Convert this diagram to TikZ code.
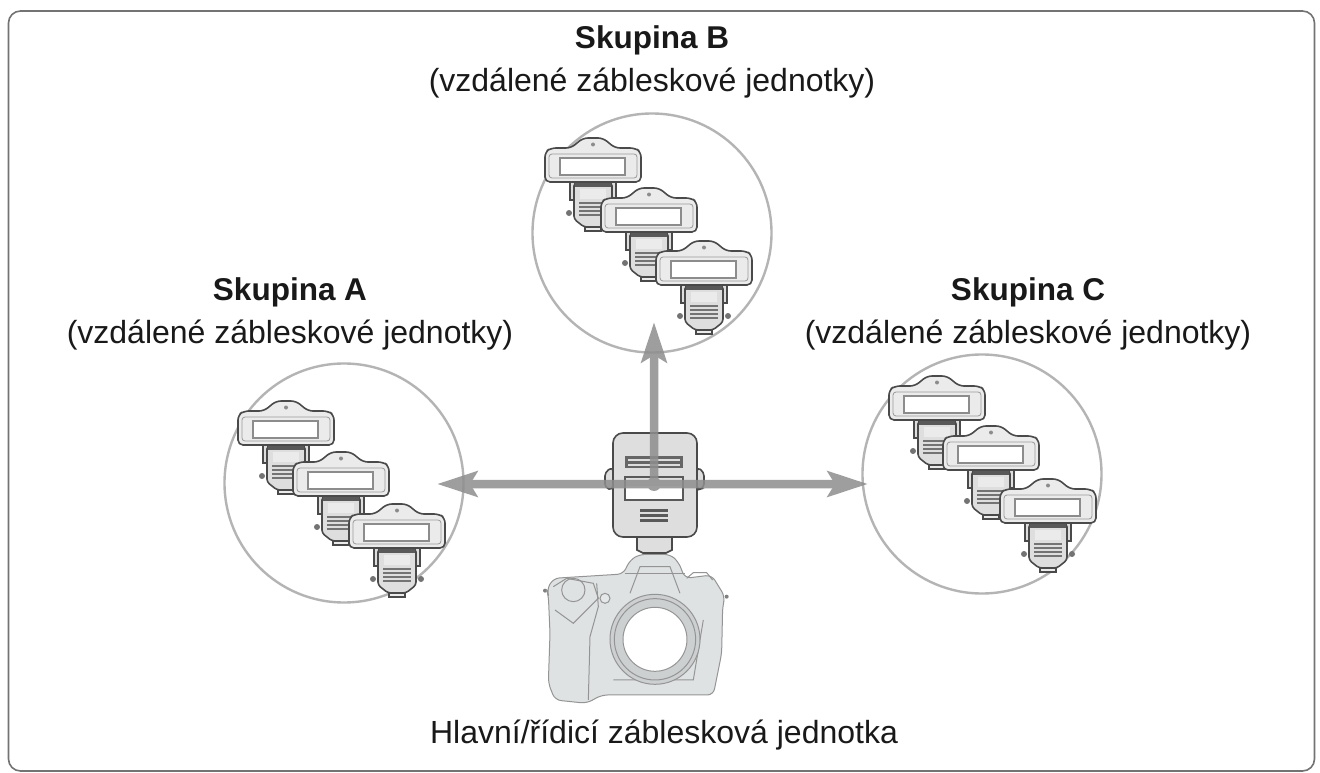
\documentclass[tikz,border=0pt]{standalone}
\usepackage{fontspec}
\setmainfont{Liberation Sans}
\usetikzlibrary{arrows.meta}
\definecolor{ink}{HTML}{4A4A4A}
\definecolor{soft}{HTML}{8E8E8E}
\definecolor{pale}{HTML}{DEDEDE}
\definecolor{paler}{HTML}{EBEBEB}
\definecolor{ring}{HTML}{B4B4B4}
\definecolor{cam}{HTML}{DFE2E3}
\tikzset{
  group label/.style={align=center,font=\fontsize{32}{43}\selectfont,text=black!90},
  ringc/.style={circle,draw=ring,line width=2.4pt,minimum size=239pt,inner sep=0pt},
  ray/.style={draw=soft,line width=8.5pt,-{Stealth[length=40pt,width=25pt,inset=7pt]}},
  line/.style={draw=ink,line width=1.6pt},
  camline/.style={draw=black!42,line width=1pt},
  pics/flashunit/.style={code={
    % bracket
    \fill[pale] (-24,46) rectangle (24,64);
    \draw[line] (-23,46) -- (-23,63) -- (-18,63) -- (-18,46);
    \draw[line] (23,46) -- (23,63) -- (18,63) -- (18,46);
    % body
    \draw[line,fill=pale,rounded corners=3pt] (-19,46) -- (-19,82) -- (-9,90) -- (9,90) -- (19,82) -- (19,46) -- cycle;
    \fill[black!65] (-18,46) rectangle (18,50);
    \fill[paler] (-13,52) rectangle (13,62);
    \foreach \yy in {65,69,73,77} \fill[black!55] (-14,\yy) rectangle (14,\yy+2.2);
    \fill[black!55] (-24,76) circle (3pt);
    \fill[black!55] (24,76) circle (3pt);
    \draw[line,fill=paler] (-8,90) rectangle (8,94);
    % head
    \draw[line,fill=paler,rounded corners=5pt] (-48,45) -- (-48,15) -- (-42,11) -- (-22,11) -- (-10,1) -- (10,1) -- (22,11) -- (42,11) -- (48,15) -- (48,45) -- cycle;
    \draw[black!40,line width=.8pt,rounded corners=3pt] (-44,41) -- (-44,17) -- (44,17) -- (44,41) -- cycle;
    \draw[draw=black!45,fill=white,line width=1.3pt] (-33,21) rectangle (32,38);
    \fill[black!45] (0,7.5) circle (2pt);
  }}
}
\begin{document}
\begin{tikzpicture}[x=1pt,y=-1pt]
\useasboundingbox (0,0) rectangle (1320,773);
\fill[white] (0,0) rectangle (1320,773);
\node[draw=black!55,line width=1.6pt,rounded corners=12pt,minimum width=1306pt,minimum height=760pt,inner sep=0pt] (frame) at (661.5,391) {};

% groups
\node[ringc] (ringA) at (344,483) {};
\node[ringc] (ringB) at (652,233) {};
\node[ringc] (ringC) at (982,474) {};

\pic at (286,400) {flashunit};
\pic at (341,451) {flashunit};
\pic at (397,503) {flashunit};

\pic at (593,137) {flashunit};
\pic at (649,187) {flashunit};
\pic at (704,240) {flashunit};

\pic at (937,375) {flashunit};
\pic at (991,425) {flashunit};
\pic at (1048,478) {flashunit};

% camera
\begin{scope}[shift={(530,420)},x=.3333pt,y=-.3333pt]
  \fill[black!50] (45,512) circle (6);
  \fill[black!50] (590,530) circle (6);
  \draw[camline,fill=cam,rounded corners=6pt] (50,510) -- (70,475) -- (280,462) -- (300,420) -- (330,403) -- (420,403) -- (445,425) -- (465,475) -- (545,465) -- (585,530) -- (578,560) -- (575,700) -- (550,825) -- (215,825) -- (170,850) -- (75,840) -- (55,790) -- (60,640) -- (55,525) -- cycle;
  \draw[camline] (175,840) -- (180,650) -- (205,560) -- (200,490);
  \draw[camline] (70,500) -- (110,475) -- (190,490) -- (205,535) -- (130,610) -- (75,570);
  \draw[camline] (130,510) circle (35);
  \draw[camline,fill=cam!80!white] (225,535) circle (15);
  \draw[camline] (300,520) -- (330,440) -- (420,440) -- (450,520);
  \draw[camline] (285,460) -- (465,460);
  \draw[camline] (470,475) -- (490,458) -- (530,458) -- (548,480);
  \draw[camline] (250,780) -- (490,780) -- (520,600);
  \draw[camline,fill=cam!92!black] (375,658) circle (135);
  \draw[camline] (375,658) circle (122);
  \draw[camline,fill=white] (375,658) circle (96);
\end{scope}

% master flash
\coordinate (mid) at (654,484);
\draw[line,fill=pale] (637,533) -- (637,550) -- (643,553) -- (666,553) -- (672,550) -- (672,533) -- cycle;
\draw[line,fill=pale,rounded corners=4pt] (613,467) -- (605,472) -- (605,488) -- (613,490) -- cycle;
\draw[line,fill=pale,rounded corners=4pt] (697,467) -- (704,472) -- (704,488) -- (697,490) -- cycle;
\draw[line,fill=pale,rounded corners=10pt] (613,433) rectangle (697,537);
\fill[black!60] (625,456) rectangle (683,468);
\fill[pale] (628,459) rectangle (680,461);
\fill[pale] (628,464) rectangle (680,465.5);
\draw[draw=black!65,line width=1.6pt,fill=white] (625,477) rectangle (683,500);
\fill[pale] (626,478) rectangle (682,486);
\foreach \yy in {509,514,519} \fill[black!65] (640,\yy) rectangle (668,\yy+2.8);

% rays
\begin{scope}[transparency group,opacity=.85]
\path[ray] (mid) -- (654,322);
\path[ray] (mid) -- (437,484);
\path[ray] (mid) -- (868,484);
\fill[soft] (mid) circle (7pt);
\end{scope}

% labels
\node[group label] (labB) at (652,62) {\textbf{\fontsize{31.5}{43}\selectfont Skupina B}\\(vzdálené zábleskové jednotky)};
\node[group label] (labA) at (290,314) {\textbf{\fontsize{31.5}{43}\selectfont Skupina A}\\(vzdálené zábleskové jednotky)};
\node[group label] (labC) at (1028,314) {\textbf{\fontsize{31.5}{43}\selectfont Skupina C}\\(vzdálené zábleskové jednotky)};
\node[group label] (labM) at (664,735) {Hlavní/řídicí záblesková jednotka};
\end{tikzpicture}
\end{document}
